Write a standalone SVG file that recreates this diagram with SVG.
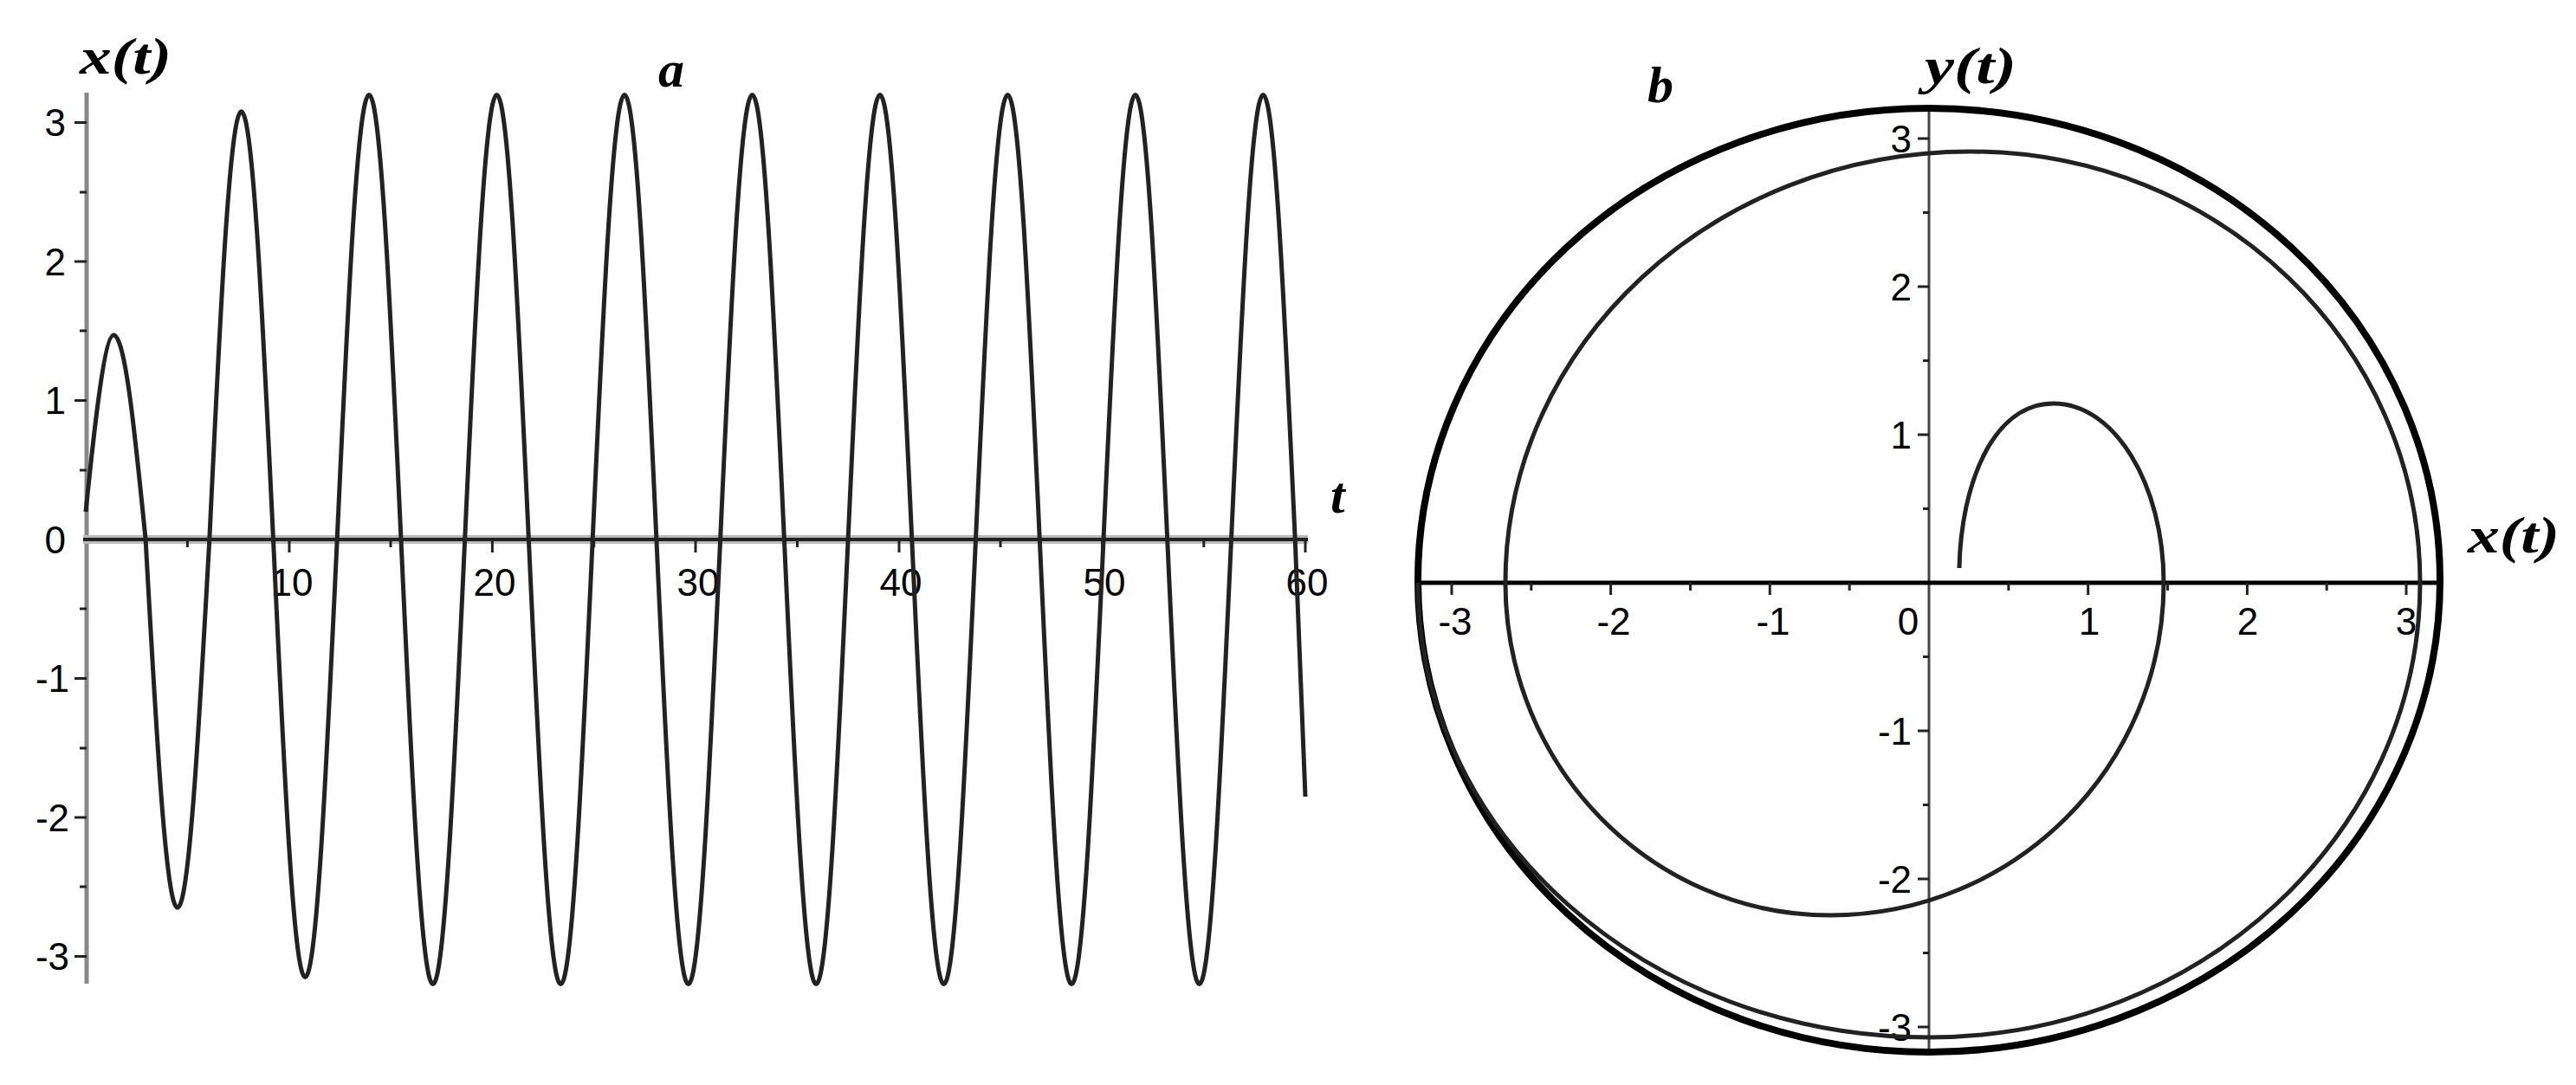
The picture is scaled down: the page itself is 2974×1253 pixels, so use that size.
<svg xmlns="http://www.w3.org/2000/svg" width="2974" height="1253" viewBox="0 0 2974 1253">
<style>
.tk{font-family:"Liberation Sans",Arial,sans-serif;font-size:44px;fill:#000}
.lb{font-family:"Liberation Serif","Times New Roman",serif;font-style:italic;font-weight:bold;font-size:60px;fill:#000}
.crv{fill:none;stroke:#222;stroke-width:5;stroke-linejoin:round}
.tick{stroke:#222;stroke-width:3}
</style>
<rect width="2974" height="1253" fill="#fff"/>
<g id="plot-a">
<line x1="100" y1="107" x2="100" y2="1136" stroke="#888" stroke-width="5"/>
<line x1="96" y1="623" x2="1510" y2="623" stroke="#bbb" stroke-width="10"/>
<line x1="96" y1="623" x2="1510" y2="623" stroke="#222" stroke-width="4"/>
<g class="tick">
<line x1="86" y1="141.5" x2="100" y2="141.5"/><line x1="86" y1="302" x2="100" y2="302"/><line x1="86" y1="462.5" x2="100" y2="462.5"/><line x1="86" y1="783.5" x2="100" y2="783.5"/><line x1="86" y1="944" x2="100" y2="944"/><line x1="86" y1="1104.5" x2="100" y2="1104.5"/>
<line x1="92" y1="222" x2="100" y2="222"/><line x1="92" y1="382" x2="100" y2="382"/><line x1="92" y1="543" x2="100" y2="543"/><line x1="92" y1="703" x2="100" y2="703"/><line x1="92" y1="864" x2="100" y2="864"/><line x1="92" y1="1024" x2="100" y2="1024"/>
<line x1="334" y1="623" x2="334" y2="638"/><line x1="568.4" y1="623" x2="568.4" y2="638"/><line x1="803" y1="623" x2="803" y2="638"/><line x1="1038" y1="623" x2="1038" y2="638"/><line x1="1272.5" y1="623" x2="1272.5" y2="638"/><line x1="1507" y1="623" x2="1507" y2="638"/>
<line x1="216.4" y1="623" x2="216.4" y2="632"/><line x1="451" y1="623" x2="451" y2="632"/><line x1="685.7" y1="623" x2="685.7" y2="632"/><line x1="920.5" y1="623" x2="920.5" y2="632"/><line x1="1155" y1="623" x2="1155" y2="632"/><line x1="1389.8" y1="623" x2="1389.8" y2="632"/>
</g>
<g class="tk" text-anchor="end">
<text x="76" y="157">3</text><text x="76" y="318">2</text><text x="76" y="478">1</text><text x="76" y="639">0</text><text x="80" y="799">-1</text><text x="80" y="960">-2</text><text x="80" y="1120">-3</text>
</g>
<g class="tk" text-anchor="middle">
<text x="337" y="688">10</text><text x="571" y="688">20</text><text x="806" y="688">30</text><text x="1040" y="688">40</text><text x="1275" y="688">50</text><text x="1509" y="688">60</text>
</g>
<text class="lb" x="92" y="85" textLength="106" lengthAdjust="spacingAndGlyphs">x(t)</text>
<text class="lb" x="760" y="100">a</text>
<text class="lb" x="1536" y="592">t</text>
<path class="crv" d="M99,591 C107,512 120,387.1 131.2,387.1
C144.5,387.1 155.7,499.1 168.1,623 C180.4,846.3 191.7,1048.3 204.9,1048.3
C218.2,1048.3 229.4,846.3 241.8,623 C254.1,363.4 265.4,128.7 278.6,128.7
C291.9,128.7 303.1,363.4 315.5,623 C327.8,888.5 339.1,1128.6 352.3,1128.6
C365.6,1128.6 376.8,888.5 389.2,623 C401.5,353.3 412.8,109.4 426.1,109.4
C439.4,109.4 450.6,353.3 463.0,623 C475.3,892.7 486.6,1136.6 499.8,1136.6
C513.1,1136.6 524.3,892.7 536.7,623 C549.0,353.3 560.3,109.4 573.5,109.4
C586.8,109.4 598.0,353.3 610.4,623 C622.7,892.7 634.0,1136.6 647.3,1136.6
C660.6,1136.6 671.8,892.7 684.2,623 C696.5,353.3 707.8,109.4 721.0,109.4
C734.3,109.4 745.5,353.3 757.9,623 C770.2,892.7 781.5,1136.6 794.7,1136.6
C808.0,1136.6 819.2,892.7 831.6,623 C843.9,353.3 855.2,109.4 868.5,109.4
C881.8,109.4 893.0,353.3 905.4,623 C917.7,892.7 929.0,1136.6 942.2,1136.6
C955.5,1136.6 966.7,892.7 979.1,623 C991.4,353.3 1002.7,109.4 1015.9,109.4
C1029.2,109.4 1040.4,353.3 1052.8,623 C1065.1,892.7 1076.4,1136.6 1089.6,1136.6
C1102.9,1136.6 1114.1,892.7 1126.5,623 C1138.8,353.3 1150.1,109.4 1163.4,109.4
C1176.7,109.4 1187.9,353.3 1200.3,623 C1212.6,892.7 1223.9,1136.6 1237.1,1136.6
C1250.4,1136.6 1261.6,892.7 1274.0,623 C1286.3,353.3 1297.6,109.4 1310.8,109.4
C1324.1,109.4 1335.3,353.3 1347.7,623 C1360.0,892.7 1371.3,1136.6 1384.6,1136.6
C1397.9,1136.6 1409.1,892.7 1421.5,623 C1433.8,353.3 1445.1,109.4 1458.3,109.4
C1471.6,109.4 1482.8,353.3 1495.2,623 C1499.3,735 1503.2,830 1507,920"/>
</g>
<g id="plot-b">
<line x1="2227" y1="125" x2="2227" y2="1213" stroke="#444" stroke-width="3"/>
<line x1="1637" y1="673" x2="2817" y2="673" stroke="#000" stroke-width="5"/>
<g class="tick">
<line x1="2214" y1="160" x2="2227" y2="160"/><line x1="2214" y1="331" x2="2227" y2="331"/><line x1="2214" y1="502" x2="2227" y2="502"/><line x1="2214" y1="844" x2="2227" y2="844"/><line x1="2214" y1="1015" x2="2227" y2="1015"/><line x1="2214" y1="1186" x2="2227" y2="1186"/>
<line x1="2220" y1="245.5" x2="2227" y2="245.5"/><line x1="2220" y1="416.5" x2="2227" y2="416.5"/><line x1="2220" y1="587.5" x2="2227" y2="587.5"/><line x1="2220" y1="758.5" x2="2227" y2="758.5"/><line x1="2220" y1="929.5" x2="2227" y2="929.5"/><line x1="2220" y1="1100.5" x2="2227" y2="1100.5"/>
<line x1="1676" y1="673" x2="1676" y2="687"/><line x1="1859.6" y1="673" x2="1859.6" y2="687"/><line x1="2043.3" y1="673" x2="2043.3" y2="687"/><line x1="2410.7" y1="673" x2="2410.7" y2="687"/><line x1="2594.4" y1="673" x2="2594.4" y2="687"/><line x1="2778" y1="673" x2="2778" y2="687"/>
<line x1="1767.8" y1="673" x2="1767.8" y2="682"/><line x1="1951.5" y1="673" x2="1951.5" y2="682"/><line x1="2135.2" y1="673" x2="2135.2" y2="682"/><line x1="2318.9" y1="673" x2="2318.9" y2="682"/><line x1="2502.6" y1="673" x2="2502.6" y2="682"/><line x1="2686.2" y1="673" x2="2686.2" y2="682"/>
</g>
<g class="tk" text-anchor="end">
<text x="2207" y="176">3</text><text x="2207" y="347">2</text><text x="2207" y="518">1</text><text x="2207" y="860">-1</text><text x="2207" y="1031">-2</text><text x="2207" y="1202">-3</text>
</g>
<g class="tk" text-anchor="middle">
<text x="1680" y="733">-3</text><text x="1863" y="733">-2</text><text x="2047" y="733">-1</text><text x="2203" y="733">0</text><text x="2412" y="733">1</text><text x="2595" y="733">2</text><text x="2778" y="733">3</text>
</g>
<text class="lb" x="1902" y="118">b</text>
<text class="lb" x="2222" y="96" textLength="106" lengthAdjust="spacingAndGlyphs">y(t)</text>
<text class="lb" x="2849" y="638" textLength="106" lengthAdjust="spacingAndGlyphs">x(t)</text>
<ellipse cx="2227" cy="670" rx="590" ry="545" fill="none" stroke="#000" stroke-width="8"/>
<path class="crv" stroke-width="4" d="M2262,656 C2264,560 2300,466 2371,466
C2441,466 2498,559 2498,673
C2498,885 2326,1057 2113,1057
C1906,1057 1738,885 1738,673
C1738,398 1978,175 2275,175
C2562,175 2794,398 2794,673
C2794,963 2540,1198 2227,1198
C1901,1198 1637,963 1637,673"/>
</g>
</svg>
